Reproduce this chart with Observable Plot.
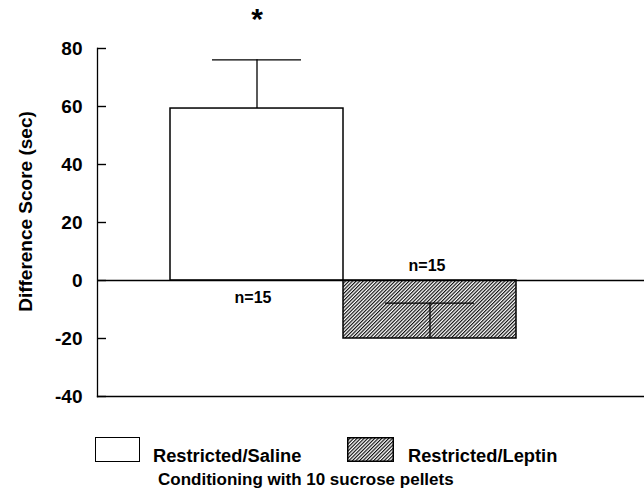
<!DOCTYPE html>
<html><head><meta charset="utf-8">
<script src="https://cdn.jsdelivr.net/npm/d3@7"></script>
<script src="https://cdn.jsdelivr.net/npm/@observablehq/plot@0.6"></script>
<style>
body{margin:0;background:#fff;font-family:"Liberation Sans",Arial,sans-serif;font-weight:bold;color:#000}
#wrap{position:relative;width:644px;height:496px}
.lg{position:absolute;line-height:normal;white-space:nowrap}
.sw{position:absolute;border:1.5px solid #000;box-sizing:border-box}
</style></head>
<body><div id="wrap"></div>
<script>
const groups = ["Restricted/Saline", "Restricted/Leptin"];
const means = [59.3, -20];
const sems = [16.8, 12.2];
const nLabels = ["n=15", "n=15"];
const sig = ["*", ""];
const yTicks = [-40, -20, 0, 20, 40, 60, 80];
const yLabel = "Difference Score (sec)";
const caption = "Conditioning with 10 sucrose pellets";

const data = groups.map((g, i) => ({g, mean: means[i], sem: sems[i], n: nLabels[i], sig: sig[i]}));
const below = data.filter(d => d.mean >= 0);
const above = data.filter(d => d.mean < 0);

const chart = Plot.plot({
  width: 644, height: 420,
  marginLeft: 97, marginRight: 0, marginTop: 48, marginBottom: 24,
  style: {fontFamily: "'Liberation Sans', Arial, sans-serif", fontWeight: "bold", fontSize: "16px", background: "#fff", color: "#000"},
  x: {domain: groups, paddingInner: 0, paddingOuter: 0.58, align: 0.363, axis: null},
  y: {domain: [-40, 80]},
  marks: [
    Plot.axisY({ticks: yTicks, tickSize: 0, tickPadding: 15, tickFormat: d => String(d), label: yLabel, labelAnchor: "center", labelArrow: "none", labelOffset: 79, fontSize: 19}),
    Plot.tickY(yTicks, {y: d => d, insetRight: 538, stroke: "black", strokeWidth: 1.4}),
    Plot.frame({anchor: "left", strokeWidth: 1.3}),
    Plot.frame({anchor: "bottom", strokeWidth: 1.3}),
    Plot.barY(data, {x: "g", y1: 0, y2: "mean", fill: (d, i) => i === 0 ? "white" : "url(#hatch)", stroke: "black", strokeWidth: 1.5}),
    Plot.ruleY([0], {strokeWidth: 1.3}),
    Plot.ruleX(data, {x: "g", y1: "mean", y2: d => d.mean + d.sem, strokeWidth: 1.3}),
    Plot.tickY(data, {x: "g", y: d => d.mean + d.sem, insetLeft: 42, insetRight: 42, strokeWidth: 1.3}),
    Plot.text(below, {x: "g", y: 0, text: "n", fontSize: 16, dx: -4, dy: 17}),
    Plot.text(above, {x: "g", y: 0, text: "n", fontSize: 16, dx: -3, dy: -15}),
    Plot.text(data, {x: "g", y: d => d.mean + d.sem, text: "sig", dy: -40, fontSize: 30})
  ]
});
const svg = d3.select(chart);
const defs = svg.insert("defs", ":first-child");
const pat = defs.append("pattern").attr("id", "hatch").attr("patternUnits", "userSpaceOnUse").attr("width", 2.5).attr("height", 2.5).attr("patternTransform", "rotate(45)");
pat.append("rect").attr("width", 2.5).attr("height", 2.5).attr("fill", "white");
pat.append("line").attr("x1", 0.6).attr("y1", 0).attr("x2", 0.6).attr("y2", 2.5).attr("stroke", "black").attr("stroke-width", 1.1);
svg.selectAll("g[aria-label='y-axis label'] text").attr("dx", 11);
document.getElementById("wrap").appendChild(chart);

const wrap = document.getElementById("wrap");
function add(html){ const e = document.createElement("div"); e.innerHTML = html; wrap.appendChild(e.firstChild); }
add(`<div class="sw" style="left:95px;top:437px;width:45px;height:25px;background:#fff"></div>`);
add(`<div class="lg" style="left:153px;top:445px;font-size:18.3px">${groups[0]}</div>`);
add(`<svg class="lg" style="left:347px;top:437px" width="47" height="25"><rect x="0.75" y="0.75" width="45.5" height="23.5" fill="url(#hatch)" stroke="black" stroke-width="1.5"/></svg>`);
add(`<div class="lg" style="left:408px;top:445px;font-size:18.3px">${groups[1]}</div>`);
add(`<div class="lg" style="left:158px;top:470px;font-size:17px">${caption}</div>`);
</script></body></html>
